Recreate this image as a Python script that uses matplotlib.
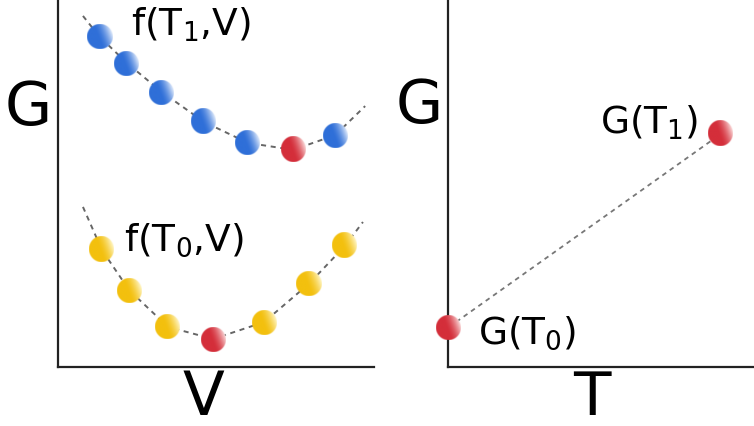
import numpy as np
import matplotlib
matplotlib.use("Agg")
import matplotlib.pyplot as plt
from matplotlib.colors import to_rgb

# ---------------- data ----------------
# left panel: G as a function of V at two temperatures
curve_T1_V = [0.79, 1.30, 2.18, 3.29, 4.62, 6.01, 7.44, 8.77, 9.72]
curve_T1_G = [9.54, 8.99, 8.26, 7.47, 6.66, 6.09, 5.90, 6.30, 7.09]
pts_T1_V = [1.30, 2.18, 3.29, 4.62, 6.01, 8.77]
pts_T1_G = [8.99, 8.26, 7.47, 6.66, 6.09, 6.30]
min_T1_V = [7.44]
min_T1_G = [5.90]

curve_T0_V = [0.79, 1.39, 2.25, 3.48, 4.91, 6.52, 7.94, 9.08, 9.65]
curve_T0_G = [4.35, 3.18, 2.09, 1.09, 0.76, 1.22, 2.26, 3.29, 3.94]
pts_T0_V = [1.39, 2.25, 3.48, 6.52, 7.94, 9.08]
pts_T0_G = [3.18, 2.09, 1.09, 1.22, 2.26, 3.29]
min_T0_V = [4.91]
min_T0_G = [0.76]

# right panel: minimum G vs temperature
temps = [0.03, 8.92]
G_min = [1.09, 6.37]

label_T1 = "f(T$_1$,V)"
label_T0 = "f(T$_0$,V)"
label_G1 = "G(T$_1$)"
label_G0 = "G(T$_0$)"

# ---------------- styling ----------------
W, H = 754, 427
fig = plt.figure(figsize=(W / 100, H / 100), dpi=100)
plt.rcParams['mathtext.fontset'] = 'dejavusans'

BLUE = ("#2f6fd8", "#e2ecfb")
YELLOW = ("#f3c00e", "#fff6c8")
RED = ("#d42e3a", "#fadada")

RADIUS_PX = 12.5


def sphere_image(cols, n=80, ang=np.deg2rad(20)):
    dark = np.array(to_rgb(cols[0]))
    light = np.array(to_rgb(cols[1]))
    c = (np.arange(n) + 0.5) / n * 2 - 1
    xx, yy = np.meshgrid(c, c)
    r = np.hypot(xx, yy)
    px = 2.0 / (2 * RADIUS_PX)
    alpha = np.clip((1 - r) / px + 0.5, 0, 1)
    g = xx * np.cos(ang) + yy * np.sin(ang)
    w = np.clip((g + 0.15) / 1.15, 0, 1) ** 1.7
    rgb = dark[None, None, :] + (light - dark)[None, None, :] * w[..., None]
    return np.dstack([rgb, alpha])


def spheres(ax, x, y, cols):
    img = sphere_image(cols)
    fig.canvas.draw()
    bb = ax.get_window_extent()
    x0, x1 = ax.get_xlim()
    y0, y1 = ax.get_ylim()
    rx = RADIUS_PX * (x1 - x0) / bb.width
    ry = RADIUS_PX * (y1 - y0) / bb.height
    for xi, yi in zip(x, y):
        ax.imshow(img, extent=[xi - rx, xi + rx, yi - ry, yi + ry],
                  origin='lower', interpolation='bilinear', aspect='auto',
                  zorder=3, clip_on=False)
    ax.set_xlim(x0, x1)
    ax.set_ylim(y0, y1)


def style(ax):
    for s in ("top", "right"):
        ax.spines[s].set_visible(False)
    for s in ("left", "bottom"):
        ax.spines[s].set_linewidth(1.6)
        ax.spines[s].set_color("#222222")
    ax.set_xticks([])
    ax.set_yticks([])
    ax.set_xlim(0, 10)
    ax.set_ylim(0, 10)


dash = (0, (2.6, 2.4))

# left axes
ax1 = fig.add_axes([58 / W, (H - 368) / H, 316 / W, 368 / H])
style(ax1)
ax1.plot(curve_T1_V, curve_T1_G, color="#666666", lw=1.4, ls=dash, zorder=2)
ax1.plot(curve_T0_V, curve_T0_G, color="#666666", lw=1.4, ls=dash, zorder=2)
spheres(ax1, pts_T1_V, pts_T1_G, BLUE)
spheres(ax1, min_T1_V, min_T1_G, RED)
spheres(ax1, pts_T0_V, pts_T0_G, YELLOW)
spheres(ax1, min_T0_V, min_T0_G, RED)
ax1.text(2.30, 9.32, label_T1, fontsize=27, ha='left', va='center')
ax1.text(2.08, 3.48, label_T0, fontsize=27, ha='left', va='center')

# right axes
ax2 = fig.add_axes([448 / W, (H - 368) / H, 306 / W, 366 / H])
style(ax2)
ax2.plot(temps, G_min, color="#777777", lw=1.3, ls=dash, zorder=2)
spheres(ax2, temps, G_min, RED)
ax2.text(8.17, 6.69, label_G1, fontsize=27, ha='right', va='center')
ax2.text(0.98, 0.96, label_G0, fontsize=27, ha='left', va='center')

# axis letters
fig.text(28 / W, 1 - 108 / H, "G", fontsize=44, ha='center', va='center')
fig.text(419 / W, 1 - 106 / H, "G", fontsize=44, ha='center', va='center')
fig.text(203 / W, 1 - 399 / H, "V", fontsize=44, ha='center', va='center')
fig.text(592 / W, 1 - 399 / H, "T", fontsize=44, ha='center', va='center')

fig.savefig("out.png", dpi=100)
